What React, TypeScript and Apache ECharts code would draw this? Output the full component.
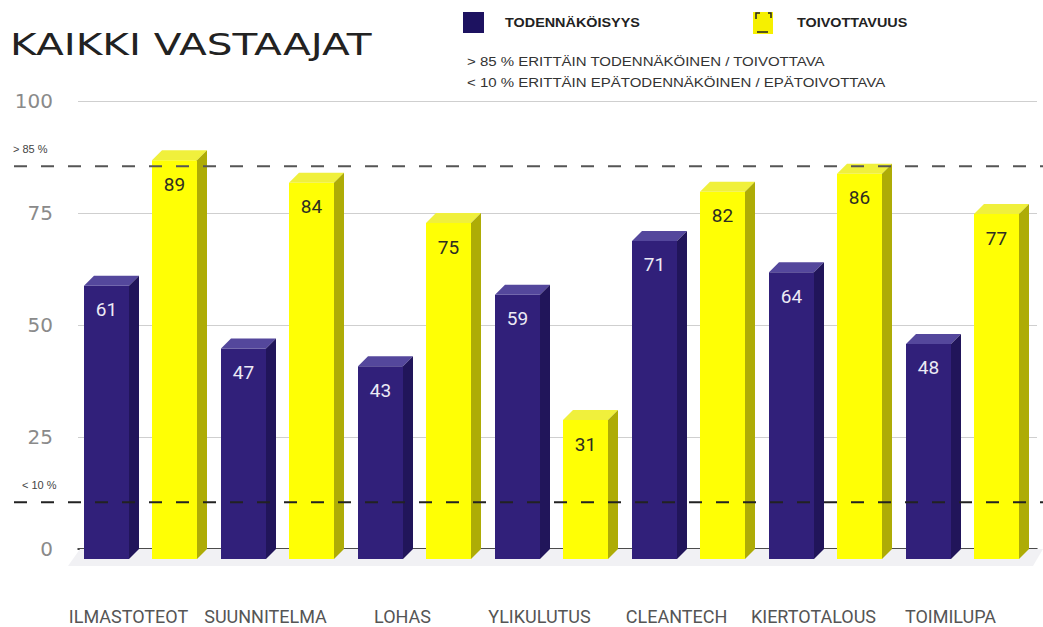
import React, { useEffect, useRef } from "react";
import * as echarts from "echarts";

const categories = ["ILMASTOTEOT", "SUUNNITELMA", "LOHAS", "YLIKULUTUS", "CLEANTECH", "KIERTOTALOUS", "TOIMILUPA"];
const probability = [61, 47, 43, 59, 71, 64, 48];
const desirability = [89, 84, 75, 31, 82, 86, 77];
const thresholds = [85, 10];
const thresholdLabels = ["> 85 %", "< 10 %"];
const legendNames = ["TODENNÄKÖISYYS", "TOIVOTTAVUUS"];
const noteLines = [
  "> 85 % ERITTÄIN TODENNÄKÖINEN / TOIVOTTAVA",
  "< 10 % ERITTÄIN EPÄTODENNÄKÖINEN / EPÄTOIVOTTAVA",
];
const titleText = "KAIKKI VASTAAJAT";

const DX = 10;
const DY = 10;
const FW = 45;

function bar3D(offset: number, front: string, top: string, side: string, textColor: string) {
  return (params: any, api: any) => {
    const ci = api.value(0);
    const v = api.value(1);
    const [cx, yTop] = api.coord([ci, v]);
    const [, y0] = api.coord([ci, 0]);
    const x0 = cx + offset;
    const fTop = yTop + DY;
    const fBot = y0 + DY;
    return {
      type: "group",
      children: [
        {
          type: "rect",
          shape: { x: x0, y: fTop, width: FW, height: fBot - fTop },
          style: { fill: front },
        },
        {
          type: "polygon",
          shape: {
            points: [
              [x0, fTop],
              [x0 + DX, yTop],
              [x0 + FW + DX, yTop],
              [x0 + FW, fTop],
            ],
          },
          style: { fill: top },
        },
        {
          type: "polygon",
          shape: {
            points: [
              [x0 + FW, fTop],
              [x0 + FW + DX, yTop],
              [x0 + FW + DX, y0],
              [x0 + FW, fBot],
            ],
          },
          style: { fill: side },
        },
        {
          type: "text",
          x: x0 + FW / 2,
          y: fTop + 24,
          style: {
            text: String(v),
            fill: textColor,
            font: "19px Roboto",
            align: "center",
            verticalAlign: "middle",
          },
        },
      ],
    };
  };
}

export default function App() {
  const ref = useRef<HTMLDivElement>(null);
  useEffect(() => {
    if (!ref.current) return;
    const chart = echarts.init(ref.current, null, { renderer: "svg" });
    const option: any = {
      animation: false,
      backgroundColor: "#ffffff",
      grid: { left: 78, right: 6, top: 101, bottom: 78 },
      xAxis: {
        type: "category",
        data: categories,
        axisTick: { show: false },
        axisLine: { show: true, lineStyle: { color: "#111", width: 1.5 } },
        axisLabel: {
          color: "#555",
          fontFamily: "Roboto",
          fontSize: 18,
          margin: 58,
          padding: [0, 36, 0, 0],
          interval: 0,
        },
        splitLine: { show: false },
      },
      yAxis: {
        type: "value",
        min: 0,
        max: 100,
        interval: 25,
        axisLine: { show: false },
        axisTick: { show: false },
        axisLabel: { color: "#8a8a8a", fontFamily: "DejaVu Sans", fontSize: 20, margin: 25 },
        splitLine: { show: true, lineStyle: { color: "#cfcfcf", width: 1 } },
      },
      series: [
        {
          type: "custom",
          name: "floor",
          z: 1,
          data: [[0, 0]],
          renderItem: (params: any, api: any) => {
            const [, y0] = api.coord([0, 0]);
            return {
              type: "polygon",
              shape: {
                points: [
                  [80, y0],
                  [1043, y0],
                  [1033, y0 + 17],
                  [68, y0 + 17],
                ],
              },
              style: { fill: "#f1f1f4" },
            };
          },
        },
        {
          type: "custom",
          name: legendNames[0],
          z: 3,
          data: probability.map((v, i) => [i, v]),
          renderItem: bar3D(-62.5, "#31207a", "#54479c", "#21155a", "#eceaf5"),
        },
        {
          type: "custom",
          name: legendNames[1],
          z: 3,
          data: desirability.map((v, i) => [i, v]),
          renderItem: bar3D(5.5, "#ffff05", "#f0f03c", "#aeac06", "#2e2e22"),
        },
        {
          type: "custom",
          name: "guides",
          z: 5,
          data: [[0, 0]],
          renderItem: (params: any, api: any) => {
            const children: any[] = [];
            thresholds.forEach((t, k) => {
              const [, y] = api.coord([0, t]);
              children.push({
                type: "line",
                shape: { x1: 14, y1: y - 2, x2: 1043, y2: y - 2 },
                style: {
                  stroke: k === 0 ? "#555" : "#222",
                  lineWidth: 2,
                  lineDash: [13, 14],
                },
              });
              children.push({
                type: "text",
                x: k === 0 ? 13 : 22,
                y: y - 19,
                style: {
                  text: thresholdLabels[k],
                  fill: "#444",
                  font: "11px 'Liberation Sans'",
                  align: "left",
                  verticalAlign: "middle",
                },
              });
            });
            return { type: "group", children };
          },
        },
      ],
      graphic: [
        {
          type: "text",
          x: 10,
          y: 44,
          scaleX: 1.31,
          style: {
            text: titleText,
            fill: "#222",
            font: "31px 'DejaVu Sans'",
            align: "left",
            verticalAlign: "middle",
          },
        },
        {
          type: "rect",
          shape: { x: 463, y: 12, width: 21, height: 21 },
          style: { fill: "#1d1260" },
        },
        {
          type: "text",
          x: 505,
          y: 23,
          scaleX: 1.2,
          style: {
            text: legendNames[0],
            fill: "#222",
            font: "bold 12px 'Liberation Sans'",
            align: "left",
            verticalAlign: "middle",
          },
        },
        {
          type: "rect",
          shape: { x: 753, y: 12, width: 20, height: 22 },
          style: { fill: "#f6f000" },
        },
        {
          type: "polyline",
          shape: { points: [[756, 19], [756, 13], [760, 13]] },
          style: { stroke: "#222", lineWidth: 1.5, fill: "none" },
        },
        {
          type: "polyline",
          shape: { points: [[768, 13], [771, 13], [771, 18]] },
          style: { stroke: "#222", lineWidth: 1.5, fill: "none" },
        },
        {
          type: "line",
          shape: { x1: 757, y1: 32, x2: 768, y2: 32 },
          style: { stroke: "#222", lineWidth: 1.5 },
        },
        {
          type: "text",
          x: 797,
          y: 23,
          scaleX: 1.2,
          style: {
            text: legendNames[1],
            fill: "#222",
            font: "bold 12px 'Liberation Sans'",
            align: "left",
            verticalAlign: "middle",
          },
        },
        {
          type: "text",
          x: 467,
          y: 62,
          scaleX: 1.25,
          style: {
            text: noteLines[0],
            fill: "#333",
            font: "12px 'Liberation Sans'",
            align: "left",
            verticalAlign: "middle",
          },
        },
        {
          type: "text",
          x: 467,
          y: 83,
          scaleX: 1.25,
          style: {
            text: noteLines[1],
            fill: "#333",
            font: "12px 'Liberation Sans'",
            align: "left",
            verticalAlign: "middle",
          },
        },
      ],
    };
    chart.setOption(option);
    return () => chart.dispose();
  }, []);
  return (
    <div
      ref={ref}
      style={{ position: "fixed", left: 0, top: 0, width: 1043, height: 627 }}
    />
  );
}
